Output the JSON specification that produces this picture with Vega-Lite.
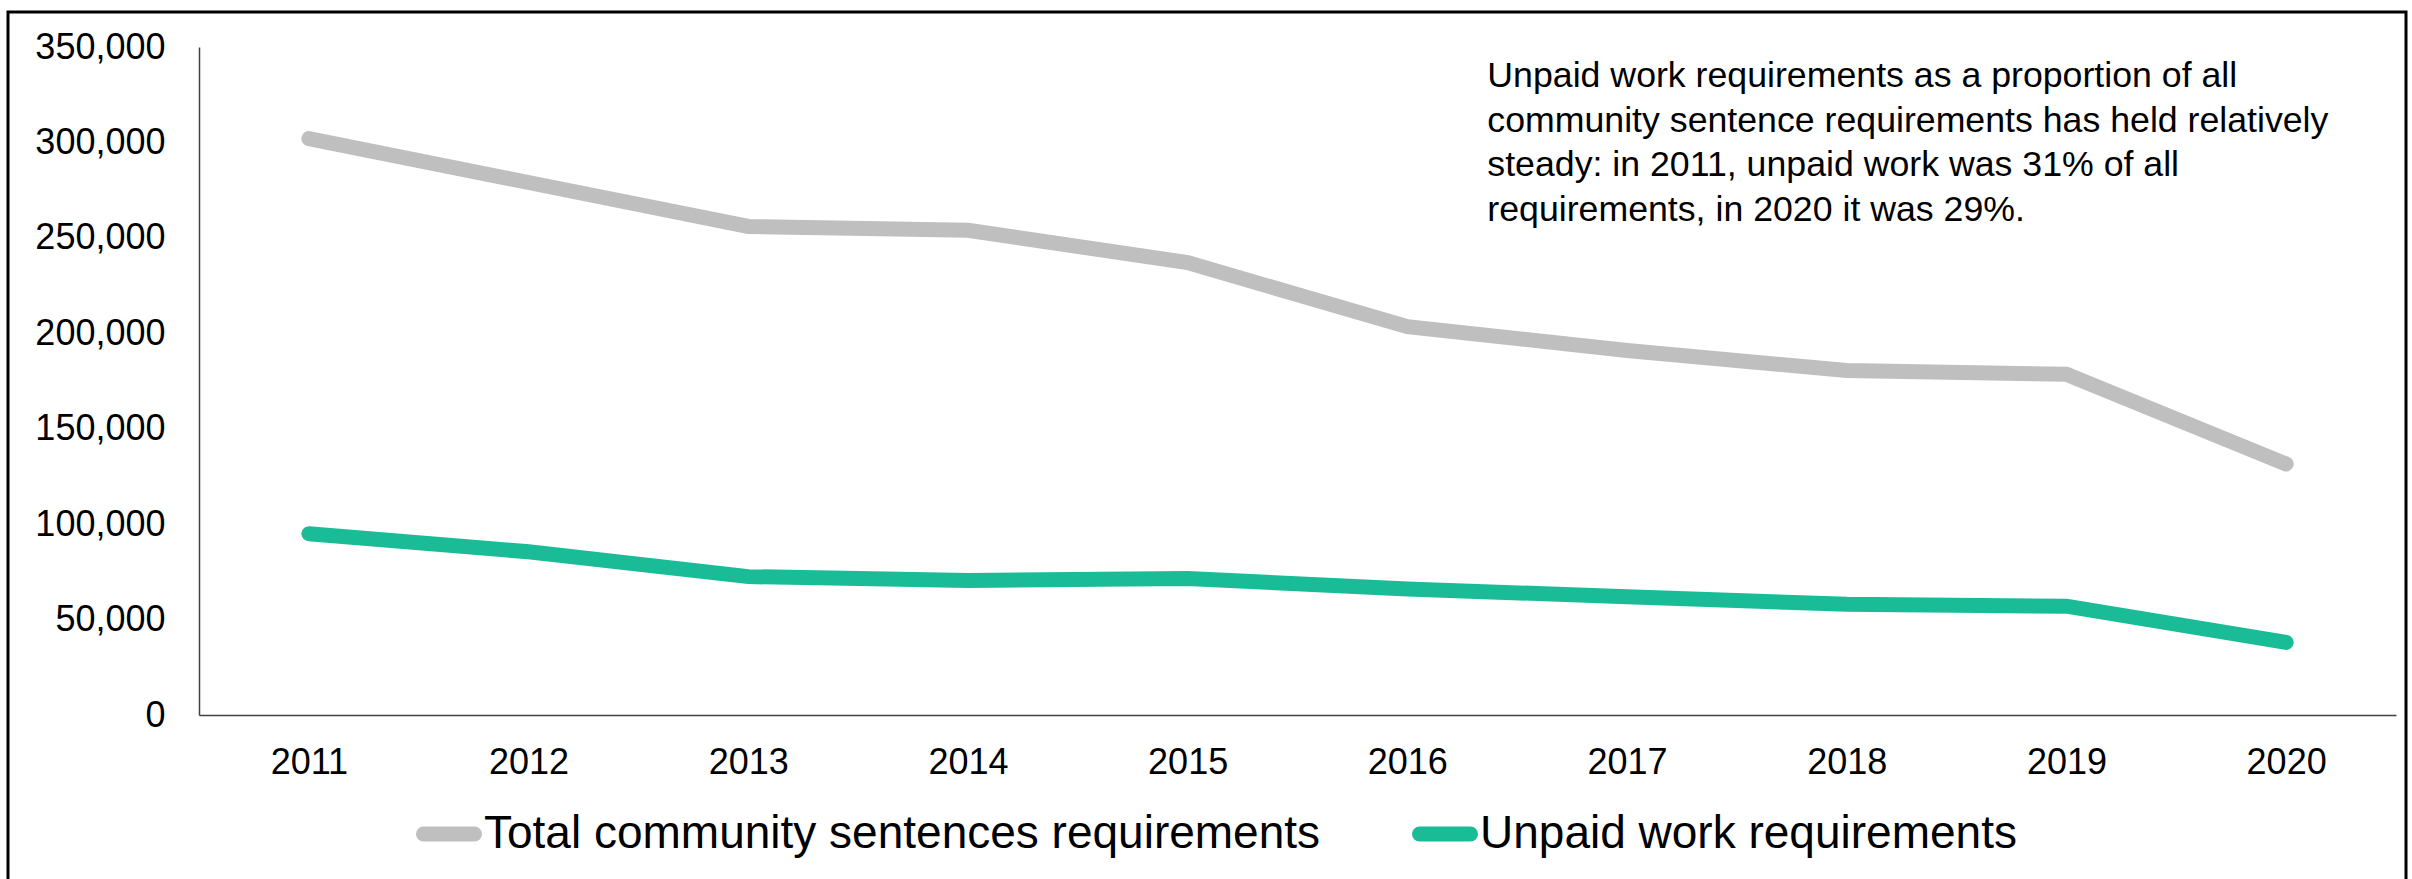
{
  "$schema": "https://vega.github.io/schema/vega-lite/v6.json",
  "autosize": "none",
  "width": 2398,
  "height": 880,
  "padding": {"left": 8, "top": 12, "right": 6, "bottom": 0},
  "background": "#ffffff",
  "config": {
    "font": "Liberation Sans",
    "view": {"stroke": "#000000", "strokeWidth": 3}
  },
  "layer": [
    {
      "data": {
        "values": [
          {"year": "2011", "series": "Total community sentences requirements", "value": 302000},
          {"year": "2012", "series": "Total community sentences requirements", "value": 279000},
          {"year": "2013", "series": "Total community sentences requirements", "value": 256000},
          {"year": "2014", "series": "Total community sentences requirements", "value": 254000},
          {"year": "2015", "series": "Total community sentences requirements", "value": 237000},
          {"year": "2016", "series": "Total community sentences requirements", "value": 203500},
          {"year": "2017", "series": "Total community sentences requirements", "value": 191000},
          {"year": "2018", "series": "Total community sentences requirements", "value": 180500},
          {"year": "2019", "series": "Total community sentences requirements", "value": 178500},
          {"year": "2020", "series": "Total community sentences requirements", "value": 131500},
          {"year": "2011", "series": "Unpaid work requirements", "value": 95000},
          {"year": "2012", "series": "Unpaid work requirements", "value": 85500},
          {"year": "2013", "series": "Unpaid work requirements", "value": 72500},
          {"year": "2014", "series": "Unpaid work requirements", "value": 70500},
          {"year": "2015", "series": "Unpaid work requirements", "value": 71500},
          {"year": "2016", "series": "Unpaid work requirements", "value": 66000},
          {"year": "2017", "series": "Unpaid work requirements", "value": 62000},
          {"year": "2018", "series": "Unpaid work requirements", "value": 58000},
          {"year": "2019", "series": "Unpaid work requirements", "value": 57000},
          {"year": "2020", "series": "Unpaid work requirements", "value": 38000}
        ]
      },
      "mark": {"type": "line", "strokeWidth": 15, "strokeCap": "round"},
      "encoding": {
        "x": {
          "field": "year",
          "type": "ordinal",
          "scale": {"type": "point", "padding": 0.5, "range": [191, 2388]},
          "axis": {
            "title": null,
            "orient": "bottom",
            "offset": -177,
            "labelAngle": 0,
            "labelFontSize": 36,
            "labelColor": "#000000",
            "labelPadding": 30,
            "ticks": false,
            "grid": false,
            "domainColor": "#404040",
            "domainWidth": 1.5
          }
        },
        "y": {
          "field": "value",
          "type": "quantitative",
          "scale": {"domain": [0, 350000], "range": [703, 35], "nice": false, "zero": true},
          "axis": {
            "title": null,
            "orient": "left",
            "offset": -191,
            "values": [0, 50000, 100000, 150000, 200000, 250000, 300000, 350000],
            "format": ",d",
            "labelFontSize": 36,
            "labelColor": "#000000",
            "labelPadding": 34,
            "ticks": false,
            "grid": false,
            "domainColor": "#404040",
            "domainWidth": 1.5
          }
        },
        "color": {
          "field": "series",
          "type": "nominal",
          "scale": {
            "domain": ["Total community sentences requirements", "Unpaid work requirements"],
            "range": ["#bfbfbf", "#1abc97"]
          },
          "legend": {
            "title": null,
            "orient": "none",
            "direction": "horizontal",
            "legendX": 408,
            "legendY": 789,
            "symbolType": "stroke",
            "symbolSize": 2601,
            "symbolStrokeWidth": 15,
            "labelFontSize": 46,
            "labelColor": "#000000",
            "labelOffset": 2,
            "columnPadding": 68,
            "labelLimit": 2000,
            "encode": {
              "symbols": {"update": {"strokeCap": {"value": "round"}}}
            }
          }
        }
      }
    },
    {
      "data": {
        "values": [
          {
            "note": [
              "Unpaid work requirements as a proportion of all",
              "community sentence requirements has held relatively",
              "steady: in 2011, unpaid work was 31% of all",
              "requirements, in 2020 it was 29%."
            ]
          }
        ]
      },
      "mark": {
        "type": "text",
        "align": "left",
        "baseline": "alphabetic",
        "fontSize": 35.7,
        "lineHeight": 44.5,
        "dx": 80,
        "dy": 40,
        "fill": "#000000"
      },
      "encoding": {
        "x": {"datum": "2016"},
        "y": {"datum": 350000},
        "text": {"field": "note"}
      }
    }
  ]
}
